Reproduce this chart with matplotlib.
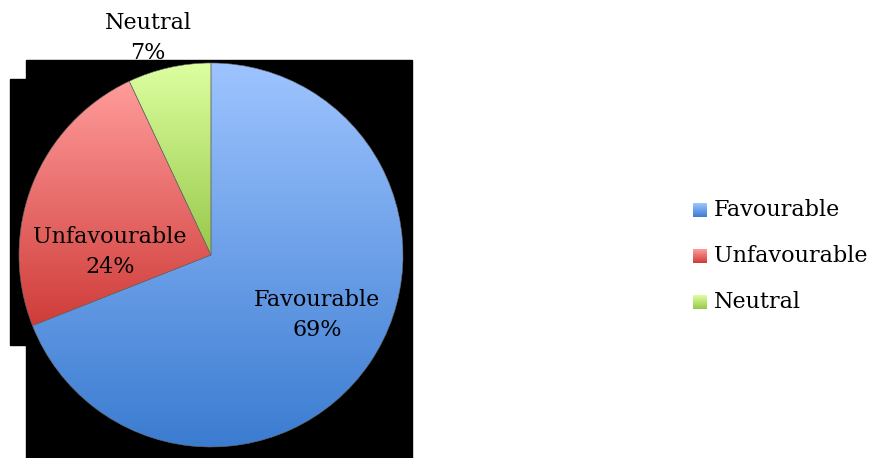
import numpy as np
import matplotlib
matplotlib.use("Agg")
import matplotlib.pyplot as plt
from matplotlib.colors import LinearSegmentedColormap
from matplotlib.patches import Rectangle

labels = ["Favourable", "Unfavourable", "Neutral"]
shares = [69, 24, 7]
# (top colour, bottom colour) of each slice's vertical gradient
gradients = [("#9ec4ff", "#3b7cd1"), ("#ff9c9b", "#cf3c39"), ("#dcffa0", "#98c84a")]

W, H = 872, 458
fig = plt.figure(figsize=(W / 100, H / 100), dpi=100)
fig.patch.set_facecolor("white")
ax = fig.add_axes([0, 0, 1, 1])

# black plot-area artefacts behind the pie
ax.add_patch(Rectangle((10, H - 345), 20, 345 - 79, color="black", zorder=0))
ax.add_patch(Rectangle((26, 0), 412 - 26, H - 60, color="black", zorder=0))

cx, cy, r = 211, H - 255, 192
wedges, _ = ax.pie(shares, startangle=90, counterclock=False,
                   center=(cx, cy), radius=r, frame=True,
                   wedgeprops=dict(facecolor="none", edgecolor="#6a6a6a",
                                   linewidth=0.4))

for w, (top, bot) in zip(wedges, gradients):
    bb = w.get_path().get_extents(w.get_patch_transform())
    cmap = LinearSegmentedColormap.from_list("g", [top, bot])
    grad = np.linspace(0, 1, 256).reshape(-1, 1)
    im = ax.imshow(grad, cmap=cmap, aspect="auto", origin="upper",
                   extent=(bb.x0, bb.x1, bb.y0, bb.y1), zorder=1)
    im.set_clip_path(w)
    w.set_zorder(2)

font = dict(family="DejaVu Serif", fontsize=16, color="black",
            ha="center", va="center", linespacing=1.45)
ax.text(148, H - 38, "Neutral\n7%", zorder=-0.5, **font)
ax.text(110, H - 252, "Unfavourable\n24%", zorder=3, **font)
ax.text(317, H - 315, "Favourable\n69%", zorder=3, **font)

# legend
for i, (lab, (top, bot)) in enumerate(zip(labels, gradients)):
    ly = H - (210 + 46 * i)
    cmap = LinearSegmentedColormap.from_list("g", [top, bot])
    ax.imshow(np.linspace(0, 1, 32).reshape(-1, 1), cmap=cmap, aspect="auto",
              extent=(693, 707, ly - 7, ly + 7), zorder=2)
    ax.text(714, ly, lab, family="DejaVu Serif", fontsize=16,
            ha="left", va="center")

ax.set_xlim(0, W)
ax.set_ylim(0, H)
ax.set_aspect("auto")
ax.axis("off")

fig.savefig("out.png", dpi=100)
